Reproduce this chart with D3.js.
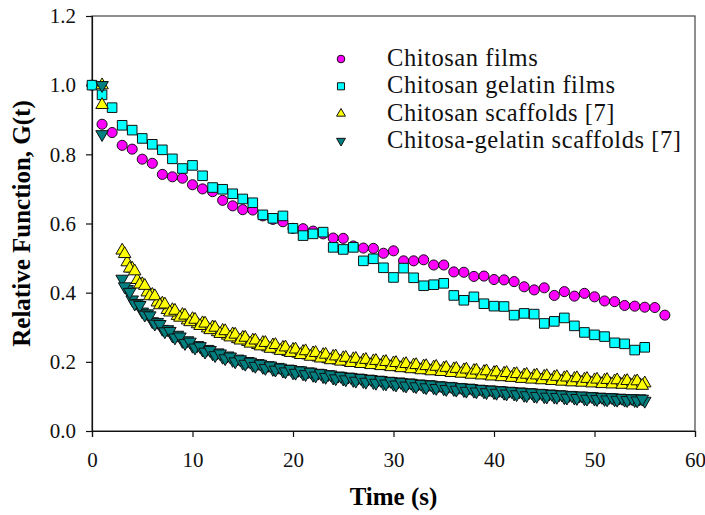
<!DOCTYPE html>
<html>
<head>
<meta charset="utf-8">
<script src="https://cdn.jsdelivr.net/npm/d3@7"></script>
<style>
  body { margin: 0; background: #fff; }
</style>
</head>
<body>
<script>
// ---- data ----
var filmTime = [0,1,2,3,4,5,6,7,8,9,10,11,12,13,14,15,16,17,18,19,20,21,22,23,24,25,26,27,28,29,
  30,31,32,33,34,35,36,37,38,39,40,41,42,43,44,45,46,47,48,49,50,51,52,53,54,55,56,57];
var chitosanFilms = [1.0,0.887,0.863,0.826,0.815,0.786,0.774,0.742,0.735,0.731,0.712,0.700,0.692,0.667,0.651,
  0.640,0.639,0.622,0.612,0.605,0.586,0.585,0.578,0.570,0.558,0.557,0.535,0.529,0.528,0.514,0.521,0.492,0.492,
  0.495,0.480,0.480,0.460,0.459,0.447,0.448,0.438,0.437,0.432,0.417,0.408,0.414,0.392,0.403,0.390,0.398,0.388,
  0.376,0.374,0.363,0.361,0.358,0.357,0.335];
var gelatinTime = filmTime.slice(0, 56);
var gelatinFilms = [1.0,0.972,0.935,0.884,0.870,0.846,0.829,0.813,0.787,0.759,0.768,0.738,0.704,0.699,0.686,
  0.671,0.660,0.625,0.615,0.622,0.586,0.565,0.570,0.575,0.531,0.525,0.531,0.492,0.498,0.472,0.444,0.471,0.443,
  0.420,0.423,0.427,0.392,0.378,0.388,0.368,0.361,0.360,0.335,0.340,0.338,0.311,0.317,0.327,0.304,0.285,0.278,
  0.273,0.255,0.252,0.234,0.242];

// scaffold readings: two interleaved sets of samples
var scaffoldTime = [1,1,3,3.5,4,4.5,5,5.5,6,6.5,7,7.5,8,8.5,9,9.5,10,10.5,11,11.5,12,12.5,13,13.5,14,14.5,
  15,15.5,16,16.5,17,17.5,18,18.5,19,19.5,20,20.5,21,21.5,22,22.5,23,23.5,24,24.5,25,25.5,26,26.5,27,27.5,
  28,28.5,29,29.5,30,30.5,31,31.5,32,32.5,33,33.5,34,34.5,35,35.5,36,36.5,37,37.5,38,38.5,39,39.5,40,40.5,
  41,41.5,42,42.5,43,43.5,44,44.5,45,45.5,46,46.5,47,47.5,48,48.5,49,49.5,50,50.5,51,51.5,52,52.5,53,53.5,
  54,54.5,55];
var scaffoldTime2 = [3.25,3.75,4.25,4.75,5.25,5.75,6.25,6.75,7.25,7.75,8.25,8.75,9.25,9.75,10.25,10.75,
  11.25,11.75,12.25,12.75,13.25,13.75,14.25,14.75,15.25,15.75,16.25,16.75,17.25,17.75,18.25,18.75,19.25,19.75,
  20.25,20.75,21.25,21.75,22.25,22.75,23.25,23.75,24.25,24.75,25.25,25.75,26.25,26.75,27.25,27.75,28.25,28.75,
  29.25,29.75,30.25,30.75,31.25,31.75,32.25,32.75,33.25,33.75,34.25,34.75,35.25,35.75,36.25,36.75,37.25,37.75,
  38.25,38.75,39.25,39.75,40.25,40.75,41.25,41.75,42.25,42.75,43.25,43.75,44.25,44.75,45.25,45.75,46.25,46.75,
  47.25,47.75,48.25,48.75,49.25,49.75,50.25,50.75,51.25,51.75,52.25,52.75,53.25,53.75,54.25,54.75];

var chitosanScaffolds = [1.0,0.943,0.522,0.488,0.470,0.437,0.425,0.401,0.394,0.372,0.369,0.350,0.350,0.333,
  0.336,0.320,0.324,0.309,0.312,0.297,0.300,0.286,0.290,0.276,0.280,0.266,0.270,0.258,0.262,0.249,0.255,0.242,
  0.248,0.236,0.241,0.229,0.235,0.224,0.229,0.219,0.225,0.213,0.220,0.208,0.215,0.204,0.211,0.200,0.208,0.197,
  0.204,0.194,0.202,0.191,0.199,0.188,0.196,0.185,0.192,0.182,0.190,0.179,0.187,0.176,0.184,0.174,0.181,0.171,
  0.179,0.169,0.176,0.166,0.174,0.164,0.171,0.161,0.168,0.159,0.166,0.156,0.164,0.154,0.161,0.152,0.159,0.150,
  0.157,0.148,0.155,0.146,0.153,0.144,0.151,0.143,0.149,0.141,0.147,0.139,0.146,0.138,0.144,0.137,0.143,0.135,
  0.142,0.134,0.138];
var chitosanScaffolds2 = [0.512,0.470,0.462,0.424,0.420,0.390,0.390,0.364,0.366,0.343,
  0.348,0.328,0.334,0.315,0.322,0.304,0.311,0.292,0.299,0.281,
  0.289,0.271,0.279,0.262,0.270,0.253,0.262,0.245,0.255,0.238,
  0.249,0.232,0.242,0.226,0.236,0.220,0.231,0.215,0.226,0.210,
  0.221,0.205,0.216,0.201,0.212,0.197,0.209,0.194,0.206,0.191,
  0.203,0.188,0.200,0.185,0.197,0.182,0.194,0.179,0.191,0.176,
  0.188,0.173,0.186,0.171,0.183,0.168,0.180,0.166,0.178,0.163,
  0.175,0.161,0.173,0.158,0.170,0.156,0.168,0.154,0.165,0.151,
  0.163,0.149,0.161,0.147,0.159,0.145,0.157,0.143,0.155,0.141,
  0.153,0.140,0.151,0.138,0.149,0.136,0.148,0.135,0.147,0.134,
  0.145,0.132,0.144,0.131];

var gelatinScaffolds = [1.0,0.858,0.440,0.410,0.380,0.370,0.345,0.340,0.317,0.315,0.295,0.294,0.276,0.278,
  0.260,0.262,0.246,0.248,0.235,0.237,0.224,0.227,0.214,0.218,0.205,0.209,0.197,0.202,0.191,0.196,0.185,0.190,
  0.179,0.185,0.174,0.180,0.169,0.176,0.166,0.172,0.162,0.168,0.158,0.164,0.154,0.160,0.151,0.157,0.147,0.154,
  0.144,0.151,0.141,0.148,0.138,0.145,0.136,0.143,0.133,0.140,0.131,0.137,0.128,0.135,0.126,0.132,0.123,0.130,
  0.121,0.127,0.118,0.125,0.116,0.122,0.114,0.120,0.112,0.118,0.110,0.116,0.108,0.114,0.104,0.112,0.102,0.110,
  0.100,0.108,0.099,0.106,0.097,0.104,0.096,0.102,0.094,0.101,0.093,0.099,0.092,0.098,0.091,0.096,0.090,0.095,
  0.089,0.094,0.087];
var gelatinScaffolds2 = [0.418,0.402,0.368,0.364,0.336,0.334,0.310,0.309,0.288,0.289,
  0.270,0.273,0.254,0.258,0.241,0.245,0.229,0.234,0.219,0.224,
  0.210,0.215,0.201,0.207,0.194,0.200,0.188,0.194,0.182,0.189,
  0.177,0.183,0.172,0.179,0.168,0.175,0.164,0.171,0.160,0.167,
  0.156,0.163,0.152,0.159,0.149,0.156,0.145,0.153,0.142,0.150,
  0.139,0.147,0.137,0.144,0.134,0.141,0.131,0.139,0.129,0.136,
  0.126,0.134,0.124,0.131,0.121,0.129,0.119,0.126,0.116,0.124,
  0.114,0.121,0.112,0.119,0.110,0.117,0.108,0.115,0.106,0.113,
  0.103,0.111,0.101,0.109,0.099,0.107,0.098,0.105,0.096,0.103,
  0.095,0.102,0.093,0.100,0.092,0.098,0.091,0.097,0.090,0.095,
  0.089,0.094,0.088,0.093];

var legendLabels = ["Chitosan films", "Chitosan gelatin films", "Chitosan scaffolds [7]", "Chitosa-gelatin scaffolds [7]"];
var xTicks = [0, 10, 20, 30, 40, 50, 60];
var yTicks = [0, 0.2, 0.4, 0.6, 0.8, 1.0, 1.2];

var FONT = "'Liberation Serif', 'Times New Roman', serif";

// ---- layout ----
var W = 705, H = 515;
var m = {left: 92, right: 10, top: 16, bottom: 84};

var svg = d3.select("body").append("svg")
  .attr("width", W)
  .attr("height", H);

var x = d3.scaleLinear().domain([0, 60]).range([m.left, W - m.right]);
var y = d3.scaleLinear().domain([0, 1.2]).range([H - m.bottom, m.top]);

function pairs(t, v) { return t.map(function(d, i) { return [d, v[i]]; }); }

var series = [
  {name: legendLabels[0], pts: pairs(filmTime, chitosanFilms), fill: "#ff00ff", type: d3.symbolCircle, size: 80, rot: 0, lsize: 46},
  {name: legendLabels[1], pts: pairs(gelatinTime, gelatinFilms), fill: "#00ffff", type: d3.symbolSquare, size: 92, rot: 0, lsize: 50},
  {name: legendLabels[2], pts: pairs(scaffoldTime, chitosanScaffolds).concat(pairs(scaffoldTime2, chitosanScaffolds2)),
    fill: "#ffff00", type: d3.symbolTriangle, size: 68, rot: 0, lsize: 34},
  {name: legendLabels[3], pts: pairs(scaffoldTime, gelatinScaffolds).concat(pairs(scaffoldTime2, gelatinScaffolds2)),
    fill: "#008080", type: d3.symbolTriangle, size: 68, rot: 180, lsize: 34}
];

// frame
svg.append("rect")
  .attr("x", x(0)).attr("y", y(1.2))
  .attr("width", x(60) - x(0)).attr("height", y(0) - y(1.2))
  .attr("fill", "none").attr("stroke", "#444").attr("stroke-width", 1.2);

// axes
var xAxis = svg.append("g")
  .attr("transform", "translate(0," + y(0) + ")")
  .call(d3.axisBottom(x).tickValues(xTicks).tickSize(6).tickPadding(15).tickFormat(d3.format("d")));
var yAxis = svg.append("g")
  .attr("transform", "translate(" + x(0) + ",0)")
  .call(d3.axisLeft(y).tickValues(yTicks).tickSize(6).tickPadding(10).tickFormat(d3.format(".1f")));

[xAxis, yAxis].forEach(function(a) {
  a.attr("font-family", FONT).attr("font-size", 21);
  a.select(".domain").attr("stroke", "#111").attr("stroke-width", 1.2);
  a.selectAll(".tick line").attr("stroke", "#111").attr("stroke-width", 1.2);
  a.selectAll(".tick text").attr("fill", "#111");
});

// markers
series.forEach(function(s) {
  svg.append("g").selectAll("path")
    .data(s.pts)
    .join("path")
    .attr("d", d3.symbol().type(s.type).size(s.size))
    .attr("transform", function(d) {
      return "translate(" + x(d[0]) + "," + y(d[1]) + ") rotate(" + s.rot + ")";
    })
    .attr("fill", s.fill)
    .attr("stroke", "#111")
    .attr("stroke-width", 1);
});

// legend
var legend = svg.append("g");
series.forEach(function(s, i) {
  var ly = 59 + i * 27.3;
  legend.append("path")
    .attr("d", d3.symbol().type(s.type).size(s.lsize))
    .attr("transform", "translate(341," + ly + ") rotate(" + s.rot + ")")
    .attr("fill", s.fill)
    .attr("stroke", "#111")
    .attr("stroke-width", 1);
  legend.append("text")
    .attr("x", 387)
    .attr("y", ly + 7)
    .attr("font-family", FONT)
    .attr("font-size", 24.5)
    .attr("letter-spacing", 0.55)
    .attr("fill", "#111")
    .text(s.name);
});

// axis titles
svg.append("text")
  .attr("x", (x(0) + x(60)) / 2)
  .attr("y", 505)
  .attr("text-anchor", "middle")
  .attr("font-family", FONT)
  .attr("font-size", 25)
  .attr("font-weight", "bold")
  .text("Time (s)");

svg.append("text")
  .attr("transform", "translate(30," + ((y(0) + y(1.2)) / 2) + ") rotate(-90)")
  .attr("text-anchor", "middle")
  .attr("font-family", FONT)
  .attr("font-size", 25)
  .attr("font-weight", "bold")
  .text("Relative Function, G(t)");
</script>
</body>
</html>
